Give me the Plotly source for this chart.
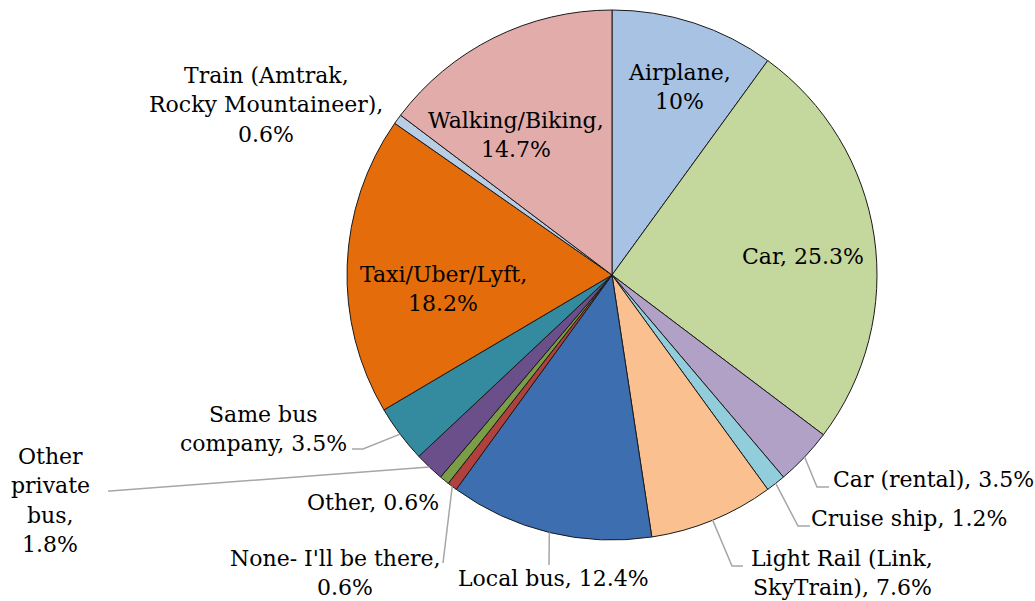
import math
import plotly.graph_objects as go

# Travel mode shares (percent), clockwise from 12 o'clock
modes = [
    "Airplane", "Car", "Car (rental)", "Cruise ship", "Light Rail (Link, SkyTrain)",
    "Local bus", "None- I'll be there", "Other", "Other private bus",
    "Same bus company", "Taxi/Uber/Lyft", "Train (Amtrak, Rocky Mountaineer)",
    "Walking/Biking",
]
shares = [10.0, 25.3, 3.5, 1.2, 7.6, 12.4, 0.6, 0.6, 1.8, 3.5, 18.2, 0.6, 14.7]
colors = ["#A7C2E3", "#C4D79C", "#B2A1C7", "#92CDDC", "#FAC090", "#3D6FB0",
          "#B0413E", "#7A9D45", "#6B4F8A", "#348A9E", "#E46C0A", "#B9CDE5",
          "#E1ACAA"]

W, H = 1035, 601
CX, CY, R = 612, 275, 265
FONT = "DejaVu Serif"
FS = 22
LINE_GAP = 29.5

# label layout: (lines, centre x px per line, first-line y px, leader path after slice edge)
label_layout = {
    "Airplane": (["Airplane,", "10%"], [679], 72, None),
    "Car": (["Car, 25.3%"], [803], 256, None),
    "Car (rental)": (["Car (rental), 3.5%"], [933], 479, [(817, 487), (829, 487)]),
    "Cruise ship": (["Cruise ship, 1.2%"], [909], 518, [(798, 526), (810, 526)]),
    "Light Rail (Link, SkyTrain)": (["Light Rail (Link,", "SkyTrain), 7.6%"], [842], 558,
                                    [(732, 566), (743, 566)]),
    "Local bus": (["Local bus, 12.4%"], [553], 578, [(549, 565)]),
    "None- I'll be there": (["None- I'll be there,", "0.6%"], [335, 345], 558, [(443, 563)]),
    "Other": (["Other, 0.6%"], [373], 502, None),
    "Other private bus": (["Other", "private", "bus,", "1.8%"], [50], 456,
                          [(110, 491), (108, 491)]),
    "Same bus company": (["Same bus", "company, 3.5%"], [263], 414, [(363, 449), (352, 449)]),
    "Taxi/Uber/Lyft": (["Taxi/Uber/Lyft,", "18.2%"], [443], 274, None),
    "Train (Amtrak, Rocky Mountaineer)": (["Train (Amtrak,", "Rocky Mountaineer),", "0.6%"],
                                          [266], 75, None),
    "Walking/Biking": (["Walking/Biking,", "14.7%"], [516], 120, None),
}


def px(x):
    return x / W


def py(y):
    return 1 - y / H


fig = go.Figure(go.Pie(
    labels=modes,
    values=shares,
    sort=False,
    direction="clockwise",
    rotation=0,
    marker=dict(colors=colors, line=dict(color="#1a1a1a", width=1)),
    textinfo="none",
    hoverinfo="label+percent",
    domain=dict(x=[(CX - R) / W, (CX + R) / W], y=[1 - (CY + R) / H, 1 - (CY - R) / H]),
))

annotations = []
shapes = []
total = sum(shares)
cum = 0.0
for name, val in zip(modes, shares):
    mid = (cum + val / 2) / total * 2 * math.pi
    cum += val
    lines, xs, ly, leader = label_layout[name]
    for i, t in enumerate(lines):
        lx = xs[i] if i < len(xs) else xs[0]
        annotations.append(dict(
            x=px(lx), y=py(ly + i * LINE_GAP), xref="paper", yref="paper",
            text=t, showarrow=False, xanchor="center", yanchor="middle",
            font=dict(family=FONT, size=FS, color="#000000"),
        ))
    if leader:
        ex, ey = CX + R * math.sin(mid), CY - R * math.cos(mid)
        pts = [(ex, ey)] + leader
        path = "M " + " L ".join(f"{px(x):.5f},{py(y):.5f}" for x, y in pts)
        shapes.append(dict(type="path", path=path, xref="paper", yref="paper",
                           line=dict(color="#A6A6A6", width=1.5)))

fig.update_layout(
    width=W, height=H,
    margin=dict(l=0, r=0, t=0, b=0),
    paper_bgcolor="white",
    plot_bgcolor="white",
    showlegend=False,
    annotations=annotations,
    shapes=shapes,
)

fig.write_html("out.html")
